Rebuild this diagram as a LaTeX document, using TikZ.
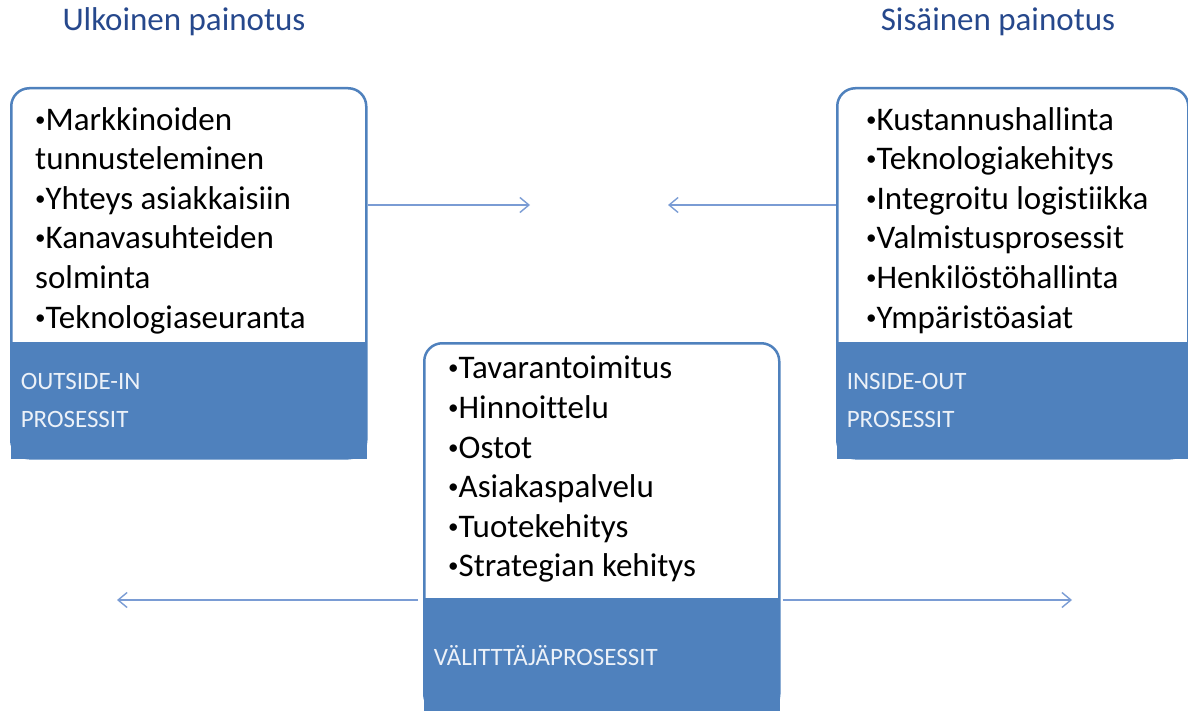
\documentclass[tikz,border=0pt]{standalone}
\usepackage{fontspec}
\setmainfont{Carlito}[Ligatures=NoCommon]
\usetikzlibrary{positioning, arrows.meta}
\definecolor{procblue}{RGB}{79,129,189}
\definecolor{titleblue}{RGB}{38,72,140}
\definecolor{arrowblue}{RGB}{122,156,212}
\definecolor{labelwhite}{RGB}{236,241,248}
\newcommand{\itm}{{\fontsize{21}{0}\selectfont\raisebox{4pt}{•}}}

\begin{document}
\begin{tikzpicture}[
        x=1pt, y=-1pt,
        frame/.style={rectangle, draw=procblue, fill=white, line width=2.5pt, rounded corners=18pt, minimum width=355pt, anchor=north west, inner sep=0pt},
        band/.style={rectangle, fill=procblue, minimum width=356pt, text width=336pt, inner xsep=10pt, inner ysep=0pt, align=left, anchor=south, font=\fontsize{25}{38}\selectfont, text=labelwhite},
        items/.style={anchor=north west, align=left, inner sep=0pt, font=\fontsize{33}{39.6}\selectfont},
        title/.style={inner sep=0pt, font=\fontsize{33}{36}\selectfont, text=titleblue},
        flow/.style={draw=arrowblue, line width=1.4pt, -{Straight Barb[length=9pt, width=15pt]}}
    ]
        \useasboundingbox (0,0) rectangle (1188,711);

        \node[title] (outtitle) at (184,22) {Ulkoinen painotus};
        \node[title] (intitle) at (998,22) {Sisäinen painotus};

        % outside-in
        \node[frame, minimum height=370pt] (outframe) at (10,87) {};
        \node[band, minimum height=117pt] (outband) at (outframe.south) {OUTSIDE-IN\\PROSESSIT};
        \node[items] (outitems) at (35,107) {\itm Markkinoiden\\tunnusteleminen\\\itm Yhteys asiakkaisiin\\\itm Kanavasuhteiden\\solminta\\\itm Teknologiaseuranta};

        % inside-out
        \node[frame, minimum width=351pt, minimum height=370pt] (inframe) at (836,87) {};
        \node[band, minimum width=352pt, text width=332pt, minimum height=117pt] (inband) at (inframe.south) {INSIDE-OUT\\PROSESSIT};
        \node[items] (initems) at (866,107) {\itm Kustannushallinta\\\itm Teknologiakehitys\\\itm Integroitu logistiikka\\\itm Valmistusprosessit\\\itm Henkilöstöhallinta\\\itm Ympäristöasiat};

        % valittaja
        \node[frame, minimum height=369pt] (midframe) at (423,342) {};
        \node[band, minimum height=115pt] (midband) at (midframe.south) {VÄLITTTÄJÄPROSESSIT};
        \node[items] (miditems) at (448,356) {\itm Tavarantoimitus\\\itm Hinnoittelu\\\itm Ostot\\\itm Asiakaspalvelu\\\itm Tuotekehitys\\\itm Strategian kehitys};

        \coordinate (oitip) at (530,205);
        \coordinate (iotip) at (668,205);
        \coordinate (lefttip) at (117,600);
        \coordinate (righttip) at (1072,600);

        \draw[flow] (outframe.east |- oitip) -- (oitip);
        \draw[flow] (inframe.west |- iotip) -- (iotip);
        \draw[flow, shorten <=5pt] (midframe.west |- lefttip) -- (lefttip);
        \draw[flow, shorten <=2pt] (midframe.east |- righttip) -- (righttip);
    \end{tikzpicture}
\end{document}
